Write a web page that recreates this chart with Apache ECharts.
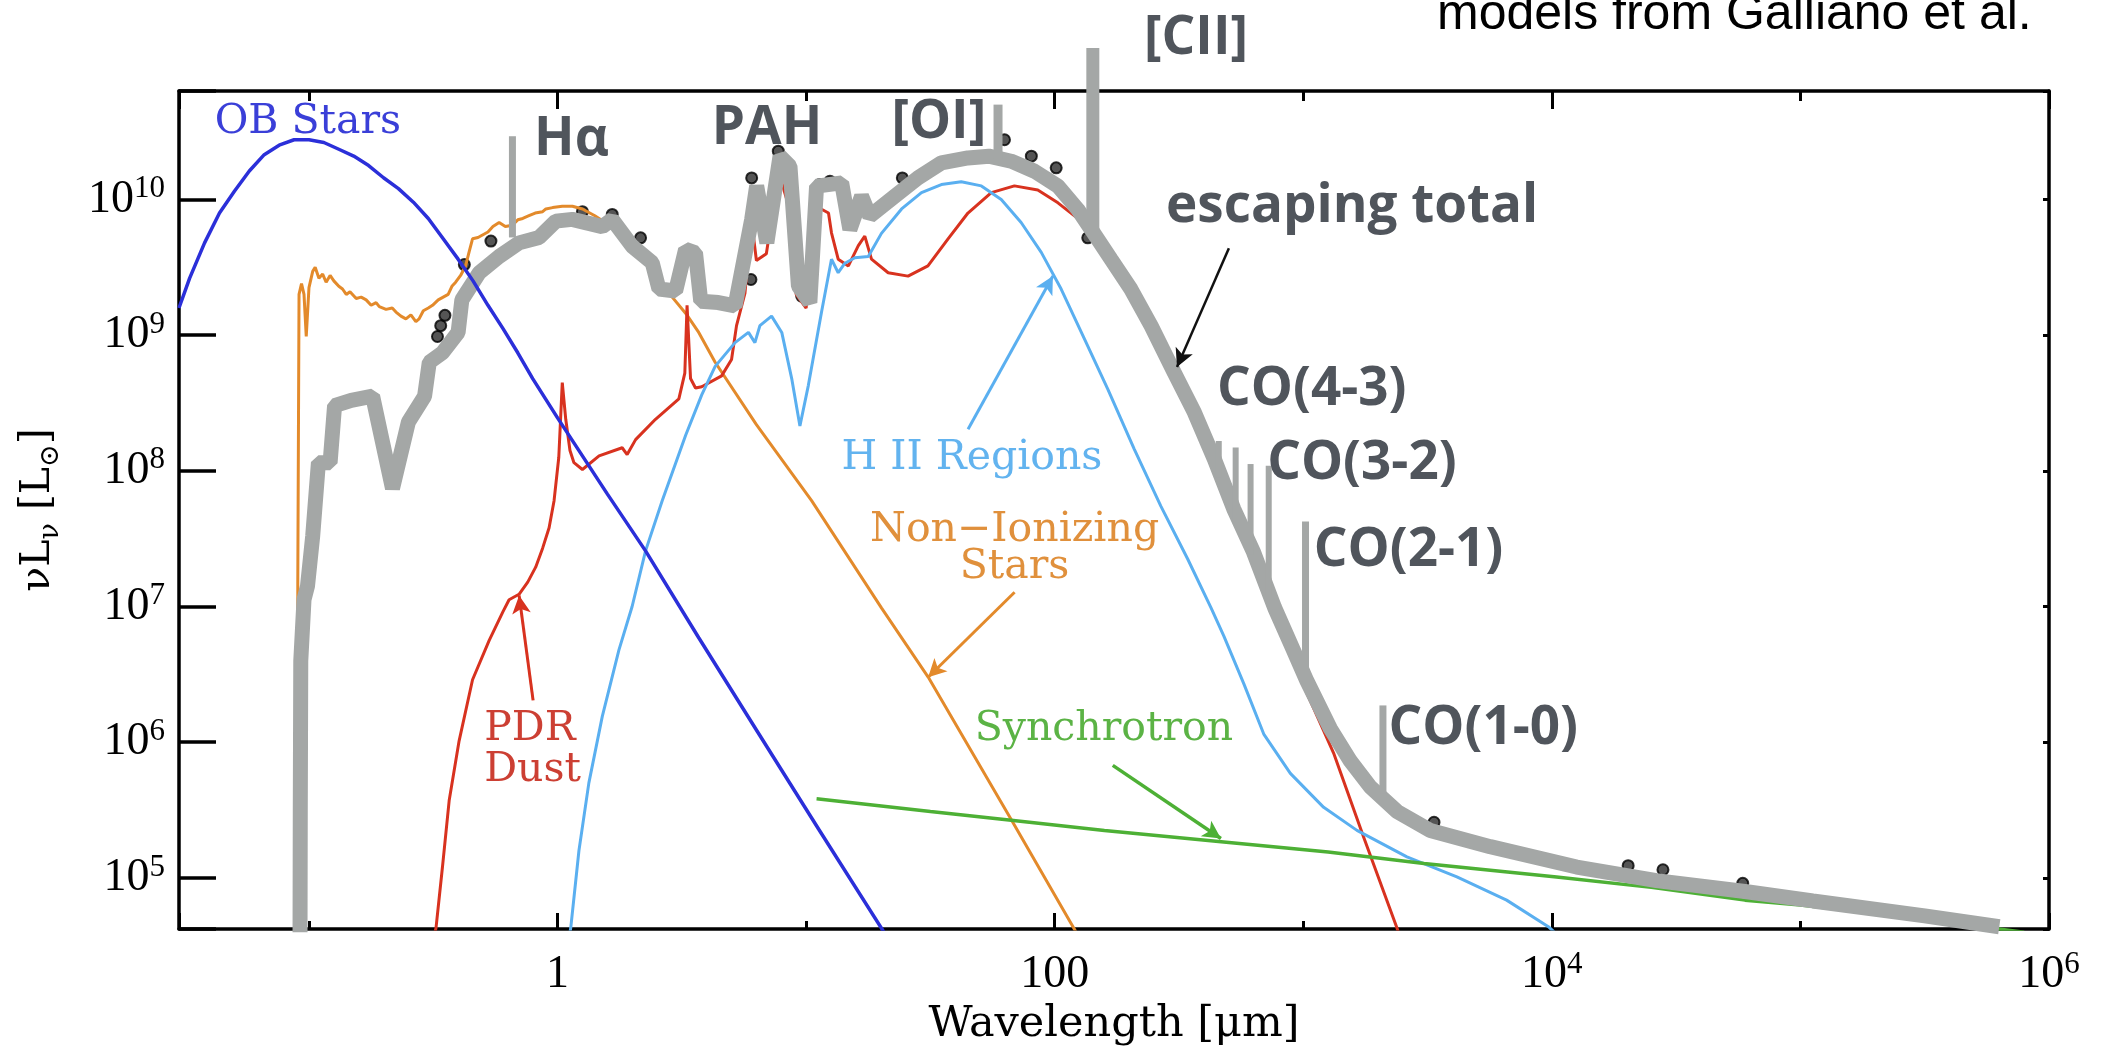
<!DOCTYPE html>
<html>
<head>
<meta charset="utf-8">
<script src="https://cdn.jsdelivr.net/npm/echarts@6/dist/echarts.min.js"></script>
<style>
html,body{margin:0;padding:0;background:#ffffff;}
#c{width:2107px;height:1053px;}
</style>
</head>
<body>
<div id="c"></div>
<script>
// ---------------- DATA (log10 of wavelength [um] and log10 of nuL_nu [Lsun]) ----------------
const obStarsLogLam = [-1.523,-1.48,-1.42,-1.36,-1.30,-1.24,-1.18,-1.12,-1.06,-1.00,-0.94,-0.88,-0.82,-0.76,-0.70,-0.64,-0.58,-0.52,-0.46,-0.40,-0.34,-0.28,-0.22,-0.16,-0.10,0.00,0.10,0.20,0.354,0.568,0.80,1.05,1.32];
const obStarsLogLum = [9.20,9.42,9.68,9.90,10.06,10.21,10.33,10.40,10.44,10.44,10.42,10.37,10.32,10.25,10.16,10.08,9.98,9.86,9.71,9.56,9.40,9.22,9.05,8.87,8.68,8.39,8.11,7.83,7.41,6.77,6.09,5.36,4.58];

const nonIonLogLam = [-1.045,-1.045,-1.040,-1.030,-1.020,-1.011,-1.000,-0.985,-0.975,-0.960,-0.945,-0.931,-0.915,-0.900,-0.880,-0.865,-0.850,-0.835,-0.810,-0.790,-0.770,-0.750,-0.730,-0.717,-0.690,-0.665,-0.650,-0.630,-0.610,-0.590,-0.570,-0.557,-0.540,-0.520,-0.503,-0.480,-0.460,-0.440,-0.425,-0.410,-0.390,-0.370,-0.355,-0.342,-0.320,-0.300,-0.280,-0.260,-0.235,-0.210,-0.182,-0.160,-0.140,-0.115,-0.090,-0.060,-0.047,-0.020,0.019,0.060,0.100,0.150,0.250,0.350,0.448,0.520,0.568,0.634,0.800,1.022,1.303,1.491,1.825,2.080,2.100];
const nonIonLogLum = [4.60,7.18,9.30,9.38,9.30,8.99,9.35,9.47,9.50,9.42,9.45,9.39,9.44,9.40,9.36,9.34,9.30,9.32,9.27,9.28,9.26,9.22,9.24,9.21,9.19,9.20,9.17,9.14,9.12,9.15,9.10,9.12,9.18,9.20,9.22,9.26,9.28,9.30,9.36,9.39,9.44,9.51,9.62,9.71,9.72,9.74,9.76,9.80,9.83,9.80,9.81,9.85,9.86,9.88,9.90,9.91,9.93,9.94,9.95,9.95,9.93,9.88,9.76,9.56,9.31,9.15,9.02,8.80,8.34,7.78,6.99,6.48,5.43,4.62,4.55];

const pdrLogLam = [-0.500,-0.489,-0.463,-0.436,-0.396,-0.342,-0.275,-0.220,-0.195,-0.155,-0.120,-0.088,-0.060,-0.034,-0.014,0.005,0.019,0.033,0.050,0.066,0.100,0.167,0.260,0.280,0.314,0.394,0.488,0.512,0.521,0.535,0.555,0.580,0.660,0.700,0.720,0.754,0.780,0.800,0.840,0.890,0.930,0.960,1.000,1.040,1.090,1.102,1.129,1.170,1.210,1.236,1.263,1.330,1.410,1.490,1.571,1.651,1.745,1.838,1.932,2.013,2.100,2.200,2.307,2.400,2.481,2.560,2.642,2.720,2.800,2.885,2.960,3.015,3.122,3.243,3.377,3.400];
const pdrLogLum = [4.55,4.63,5.08,5.57,6.01,6.46,6.75,6.96,7.05,7.09,7.18,7.29,7.43,7.58,7.78,8.10,8.65,8.38,8.15,8.06,8.01,8.11,8.17,8.12,8.23,8.38,8.53,8.72,9.22,8.68,8.61,8.62,8.70,8.82,9.07,9.31,9.85,9.55,9.60,10.20,9.95,9.30,9.20,9.95,9.90,9.754,9.56,9.51,9.66,9.73,9.56,9.46,9.435,9.51,9.71,9.90,10.05,10.10,10.07,9.975,9.85,9.60,9.30,9.00,8.69,8.40,8.05,7.68,7.35,6.93,6.60,6.36,5.92,5.30,4.63,4.50];

const hiiLogLam = [0.040,0.053,0.086,0.126,0.180,0.247,0.300,0.354,0.421,0.515,0.580,0.634,0.714,0.768,0.794,0.814,0.861,0.902,0.942,0.975,1.009,1.062,1.102,1.129,1.156,1.196,1.250,1.303,1.384,1.464,1.544,1.624,1.705,1.785,1.865,1.946,2.026,2.120,2.214,2.320,2.427,2.535,2.629,2.681,2.761,2.841,2.948,3.082,3.216,3.417,3.618,3.818,3.986,4.010];
const hiiLogLum = [4.50,4.63,5.20,5.70,6.19,6.68,7.00,7.41,7.78,8.26,8.56,8.77,8.945,9.02,8.945,9.07,9.14,9.02,8.68,8.33,8.63,9.17,9.56,9.46,9.53,9.57,9.58,9.75,9.93,10.05,10.11,10.13,10.10,10.00,9.83,9.61,9.34,8.97,8.60,8.16,7.74,7.35,6.99,6.78,6.43,6.06,5.77,5.52,5.35,5.155,5.007,4.836,4.64,4.60];

const synchLogLam = [1.042,1.500,1.825,2.200,2.680,3.100,3.486,4.019,4.400,4.777,5.000,5.300,5.600,5.900];
const synchLogLum = [5.584,5.49,5.425,5.35,5.265,5.19,5.106,5.007,4.93,4.836,4.80,4.74,4.67,4.60];

const totalLogLam = [-1.036,-1.035,-1.033,-1.020,-1.006,-0.985,-0.962,-0.915,-0.897,-0.830,-0.744,-0.664,-0.600,-0.535,-0.516,-0.463,-0.400,-0.385,-0.315,-0.235,-0.155,-0.074,-0.007,0.059,0.180,0.220,0.300,0.381,0.408,0.475,0.515,0.555,0.576,0.647,0.714,0.781,0.801,0.842,0.895,0.935,0.969,1.015,1.042,1.143,1.176,1.223,1.256,1.357,1.450,1.544,1.651,1.735,1.825,1.919,2.013,2.093,2.147,2.227,2.307,2.388,2.481,2.562,2.642,2.720,2.800,2.885,2.960,3.015,3.109,3.190,3.270,3.377,3.511,3.752,4.100,4.421,4.777,5.050,5.500,5.800];
const totalLogLum = [4.60,5.50,6.60,7.05,7.15,7.52,8.06,8.06,8.48,8.52,8.55,7.87,8.36,8.55,8.80,8.87,9.02,9.26,9.46,9.58,9.68,9.72,9.84,9.853,9.80,9.853,9.656,9.533,9.34,9.325,9.632,9.607,9.25,9.24,9.215,9.853,10.10,9.68,10.319,10.245,9.362,9.24,10.098,10.122,9.779,10.024,9.877,10.024,10.159,10.27,10.306,10.319,10.282,10.208,10.098,9.926,9.779,9.558,9.338,9.068,8.724,8.43,8.087,7.72,7.40,6.99,6.68,6.45,6.10,5.86,5.67,5.49,5.35,5.23,5.08,4.98,4.90,4.83,4.72,4.64];

const photLogLam = [-0.483,-0.470,-0.453,-0.375,-0.268,0.100,0.220,0.334,0.778,0.781,0.888,0.982,1.055,1.096,1.387,1.798,1.906,2.006,2.133,3.526,4.307,4.447,4.768];
const photLogLum = [8.99,9.07,9.146,9.52,9.693,9.91,9.89,9.717,9.41,10.159,10.356,9.288,10.11,10.135,10.159,10.44,10.319,10.233,9.717,5.41,5.09,5.06,4.96];

const featureNames = ['Halpha','OI','CII','CO a','CO b','CO c','CO d','CO21','CO10'];
const featureLogLam = [-0.1815,1.772,2.1534,2.660,2.728,2.788,2.861,3.009,3.3205];
const featureTopLogLum = [10.466,10.699,11.116,8.22,8.172,8.05,8.037,7.627,6.271];
const featureBaseLogLum = [9.72,10.30,9.77,7.95,7.62,7.38,7.08,6.45,5.62];

const xTickExponents = [0, 2, 4, 6];
const yTickExponents = [5, 6, 7, 8, 9, 10];

// ---------------- STYLE / LAYOUT ----------------
const featureWidths = [7, 9, 13, 6, 6, 6, 6, 7, 7];
const X_MIN = 0.03, X_MAX = 1e6, Y_MIN = 4.2e4, Y_MAX = 6.3e10;
const GRAY = '#a4a7a6';
const DARK = '#50555c';
const SERIF = '"DejaVu Serif", serif';
const TICKFONT = '"Liberation Serif", serif';

const P = (lx, ly) => lx.map((v, i) => [Math.pow(10, v), Math.pow(10, ly[i])]);
const C = (lx, ly) => [Math.pow(10, lx), Math.pow(10, ly)];

function arrow(from, to, color, width) {
  return {
    silent: true, animation: false,
    symbol: ['none', 'arrow'], symbolSize: [14, 18],
    label: { show: false },
    lineStyle: { color: color, width: width, type: 'solid' },
    emphasis: { disabled: true },
    data: [[{ coord: C(from[0], from[1]) }, { coord: C(to[0], to[1]) }]]
  };
}

function line(name, data, color, width, extra) {
  return Object.assign({
    name: name, type: 'line', data: data, xAxisIndex: 0, yAxisIndex: 0,
    symbol: 'none', showSymbol: false, smooth: false, silent: true, animation: false,
    lineStyle: { color: color, width: width }, itemStyle: { color: color },
    emphasis: { disabled: true }
  }, extra || {});
}

const richTick = {
  b: { fontFamily: TICKFONT, fontSize: 46, lineHeight: 52, color: '#000' },
  s: { fontFamily: TICKFONT, fontSize: 31, lineHeight: 31, verticalAlign: 'top', color: '#000' }
};

function isPow(v) { const e = Math.log10(v); const r = Math.round(e); return Math.abs(e - r) < 1e-4 ? r : null; }
function xLabel(v) {
  const r = isPow(v); if (r === null) return '';
  const k = 2 * r; if (xTickExponents.indexOf(k) < 0) return '';
  if (k === 0) return '{b|1}';
  if (k === 2) return '{b|100}';
  return '{b|10}{s|' + k + '}';
}
function yLabel(v) {
  const r = isPow(v); if (r === null || yTickExponents.indexOf(r) < 0) return '';
  return '{b|10}{s|' + r + '}';
}

const frameLine = { show: true, onZero: false, lineStyle: { color: '#000', width: 3.5 } };
const gridBox = { left: 179, right: 58, top: 91, bottom: 124, containLabel: false };

const chart = echarts.init(document.getElementById('c'), null, { renderer: 'canvas' });

const features = featureNames.map((n, i) => line(n,
  [C(featureLogLam[i], featureTopLogLum[i]), C(featureLogLam[i], featureBaseLogLum[i])],
  GRAY, featureWidths[i], { clip: false, z: 4 }));

const option = {
  animation: false,
  backgroundColor: '#ffffff',
  grid: [Object.assign({}, gridBox), Object.assign({}, gridBox)],
  xAxis: [
    { gridIndex: 0, type: 'log', logBase: 10, min: X_MIN, max: X_MAX, position: 'bottom',
      axisLine: frameLine, axisTick: { show: true, inside: true, length: 8, lineStyle: { color: '#000', width: 3 } },
      axisLabel: { show: false }, splitLine: { show: false }, minorTick: { show: false } },
    { gridIndex: 0, type: 'log', logBase: 10, min: X_MIN, max: X_MAX, position: 'top',
      axisLine: frameLine, axisTick: { show: true, inside: true, length: 10, lineStyle: { color: '#000', width: 3 } },
      axisLabel: { show: false }, splitLine: { show: false } },
    { gridIndex: 1, type: 'log', logBase: 10, min: Math.sqrt(X_MIN), max: Math.sqrt(X_MAX), position: 'bottom',
      axisLine: { show: false, onZero: false }, axisTick: { show: true, inside: true, length: 16, lineStyle: { color: '#000', width: 3 } },
      axisLabel: { show: true, margin: 20, formatter: xLabel, rich: richTick },
      splitLine: { show: false },
      name: 'Wavelength [\u03bcm]', nameLocation: 'middle', nameGap: 70,
      nameTextStyle: { fontFamily: SERIF, fontSize: 43, color: '#000' } },
    { gridIndex: 1, type: 'log', logBase: 10, min: Math.sqrt(X_MIN), max: Math.sqrt(X_MAX), position: 'top',
      axisLine: { show: false, onZero: false }, axisTick: { show: true, inside: true, length: 18, lineStyle: { color: '#000', width: 3 } },
      axisLabel: { show: false }, splitLine: { show: false } }
  ],
  yAxis: [
    { gridIndex: 0, type: 'log', logBase: 10, min: Y_MIN, max: Y_MAX, position: 'left',
      axisLine: frameLine, axisTick: { show: true, inside: true, length: 37, lineStyle: { color: '#000', width: 3.5 } },
      axisLabel: { show: true, margin: 14, formatter: yLabel, rich: richTick },
      splitLine: { show: false },
      name: '{a|\u03bdL}{u|\u03bd}{a| [L}{u|\u2299}{a|]}', nameLocation: 'middle', nameGap: 115, nameRotate: 90,
      nameTextStyle: { rich: {
        a: { fontFamily: SERIF, fontSize: 41, lineHeight: 52, color: '#000' },
        u: { fontFamily: SERIF, fontSize: 27, lineHeight: 30, verticalAlign: 'bottom', color: '#000' }
      } } },
    { gridIndex: 0, type: 'log', logBase: 10, min: Y_MIN, max: Y_MAX, position: 'right',
      axisLine: frameLine, axisTick: { show: true, inside: true, length: 6, lineStyle: { color: '#000', width: 3 } },
      axisLabel: { show: false }, splitLine: { show: false } },
    { gridIndex: 1, type: 'log', logBase: 10, min: Y_MIN, max: Y_MAX, show: false }
  ],
  series: [
    line('Non-Ionizing Stars', P(nonIonLogLam, nonIonLogLum), '#e38a2b', 3,
      { markLine: arrow([1.8386, 7.105], [1.4908, 6.479], '#e38a2b', 3) }),
    line('PDR Dust', P(pdrLogLam, pdrLogLum), '#d8321f', 3,
      { markLine: arrow([-0.0984, 6.308], [-0.1546, 7.081], '#d8321f', 3) }),
    line('H II Regions', P(hiiLogLam, hiiLogLum), '#5aaff0', 3,
      { markLine: arrow([1.6514, 8.307], [1.9928, 9.436], '#5aaff0', 3) }),
    line('Synchrotron', P(synchLogLam, synchLogLum), '#4db035', 3.5,
      { markLine: arrow([2.2337, 5.829], [2.6687, 5.29], '#4db035', 3.5) }),
    { name: 'Observed', type: 'scatter', data: P(photLogLam, photLogLum), xAxisIndex: 0, yAxisIndex: 0,
      symbol: 'circle', symbolSize: 11, silent: true, animation: false,
      itemStyle: { color: '#2a2a2a', borderColor: '#000000', borderWidth: 2 } },
    line('escaping total', P(totalLogLam, totalLogLum), GRAY, 15,
      { z: 3, markLine: arrow([2.7008, 9.640], [2.492, 8.766], '#111111', 2.5) }),
  ].concat(features).concat([
    line('OB Stars', P(obStarsLogLam, obStarsLogLum), '#2b2fd9', 3.5, { z: 5 })
  ])
};

chart.setOption(option);

// ---------------- TEXT ANNOTATIONS (placed in data coordinates) ----------------
const boldFont = 'bold 53px "Open Sans", Lato, "DejaVu Sans", sans-serif';
const serifFont = '41px ' + SERIF;
const annotations = [
  { text: 'OB Stars', lx: -1.3795, ly: 10.569, align: 'left', color: '#3a3fd8', font: serifFont },
  { text: 'H\u03b1', lx: -0.0944, ly: 10.44, align: 'left', color: DARK, font: boldFont },
  { text: 'PAH', lx: 0.6205, ly: 10.521, align: 'left', color: DARK, font: boldFont },
  { text: '[OI]', lx: 1.343, ly: 10.565, align: 'left', color: DARK, font: boldFont },
  { text: '[CII]', lx: 2.3594, ly: 11.183, align: 'left', color: DARK, font: boldFont },
  { text: 'escaping total', lx: 2.448, ly: 9.947, align: 'left', color: DARK, font: boldFont },
  { text: 'CO(4-3)', lx: 2.653, ly: 8.596, align: 'left', color: DARK, font: boldFont },
  { text: 'CO(3-2)', lx: 2.8546, ly: 8.05, align: 'left', color: DARK, font: boldFont },
  { text: 'CO(2-1)', lx: 3.042, ly: 7.412, align: 'left', color: DARK, font: boldFont },
  { text: 'CO(1-0)', lx: 3.343, ly: 6.10, align: 'left', color: DARK, font: boldFont },
  { text: 'H II Regions', lx: 1.1426, ly: 8.0925, align: 'left', color: '#62b3ef', font: serifFont },
  { text: 'Non\u2212Ionizing', lx: 1.8386, ly: 7.559, align: 'center', color: '#e0903c', font: serifFont },
  { text: 'Stars', lx: 1.8386, ly: 7.289, align: 'center', color: '#e0903c', font: serifFont },
  { text: 'PDR', lx: -0.2952, ly: 6.094, align: 'left', color: '#cc3f33', font: serifFont },
  { text: 'Dust', lx: -0.2952, ly: 5.793, align: 'left', color: '#cc3f33', font: serifFont },
  { text: 'Synchrotron', lx: 1.678, ly: 6.094, align: 'left', color: '#5bb345', font: serifFont }
];

const graphics = annotations.map(a => {
  const p = chart.convertToPixel({ xAxisIndex: 0, yAxisIndex: 0 }, C(a.lx, a.ly));
  return { type: 'text', x: p[0], y: p[1], z: 100, silent: true,
    style: { text: a.text, fill: a.color, font: a.font, align: a.align, verticalAlign: 'middle',
             textAlign: a.align, textVerticalAlign: 'middle' } };
});
graphics.push({ type: 'text', x: 1437, y: 15, z: 100, silent: true,
  style: { text: 'models from Galliano et al.', fill: '#000', font: '50px "Liberation Sans", Arial, sans-serif',
           align: 'left', verticalAlign: 'middle', textAlign: 'left', textVerticalAlign: 'middle' } });

chart.setOption({ graphic: graphics });
</script>
</body>
</html>
